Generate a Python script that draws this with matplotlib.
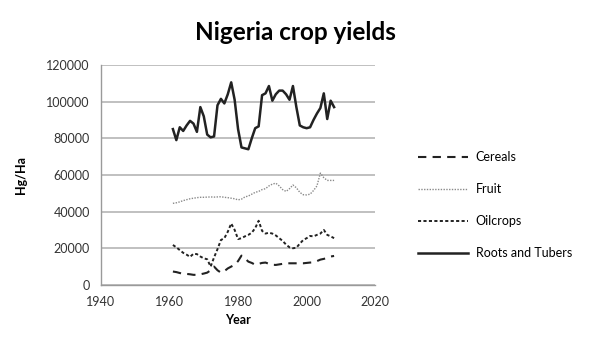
import matplotlib
matplotlib.use("Agg")
import matplotlib.pyplot as plt

plt.rcParams['font.family'] = ['Lato', 'DejaVu Sans']

years = list(range(1961, 2009))

cereals = [7300, 7000, 6500, 6000, 6000, 5800, 5500, 5500, 5800, 6200,
           6700, 8000, 10000, 8000, 6700, 7500, 9000, 10000, 11000, 13000,
           16000, 14500, 12700, 12000, 11000, 11500, 12000, 12200, 11500, 11000,
           10900, 11200, 11500, 11800, 11800, 11800, 11800, 11800, 11800, 12000,
           12200, 12300, 13000, 13800, 14200, 14800, 15500, 15800]

fruit = [44500, 44800, 45300, 46000, 46500, 47000, 47300, 47600, 47800, 47800,
         47900, 48000, 47900, 48000, 48100, 47800, 47600, 47300, 47000, 46400,
         46800, 48000, 48500, 49500, 50500, 51000, 52000, 52500, 54000, 55000,
         55500, 54000, 52000, 51000, 52500, 54500, 53000, 50500, 49200, 49100,
         49500, 51500, 54000, 61000, 58500, 57000, 57000, 57000]

oilcrops = [21800, 20500, 19000, 17500, 16500, 15300, 17000, 16800, 15500, 14500,
            14000, 10000, 15000, 19500, 24500, 25500, 29000, 33500, 30000, 25000,
            25500, 26500, 27300, 28500, 31000, 35000, 29500, 28000, 28500, 28000,
            27000, 25500, 24000, 22000, 20500, 20000, 20300, 22500, 24500, 25500,
            26700, 26500, 27300, 28000, 30000, 27300, 26500, 25500]

roots_tubers = [85000, 79000, 86000, 84000, 87000, 89500, 88000, 83500, 97000, 92000,
                82000, 80500, 81000, 98000, 101500, 99000, 104000, 110500, 101000, 85000,
                75000, 74500, 74000, 80000, 85500, 86500, 103500, 104500, 108500, 100500,
                104000, 106000, 106000, 104000, 101000, 108500, 97000, 87000, 86000, 85500,
                86000, 90000, 93500, 96500, 104500, 90500, 100500, 97000]

x_ticks = [1940, 1960, 1980, 2000, 2020]
y_ticks = [0, 20000, 40000, 60000, 80000, 100000, 120000]

fig = plt.figure(figsize=(5.9, 3.4), dpi=100)
ax = fig.add_axes([0.171, 0.162, 0.465, 0.647])

ax.plot(years, cereals, color='#222222', lw=1.5, dashes=(4, 3), label='Cereals')
ax.plot(years, fruit, color='#8a8a8a', lw=1.0, dashes=(1, 1), label='Fruit')
ax.plot(years, oilcrops, color='#222222', lw=1.4, dashes=(1.6, 1.2), label='Oilcrops')
ax.plot(years, roots_tubers, color='#222222', lw=1.8, label='Roots and Tubers')

ax.set_xlim(1940, 2020)
ax.set_ylim(0, 120000)
ax.set_xticks(x_ticks)
ax.set_yticks(y_ticks)
ax.set_yticklabels([str(v) for v in y_ticks])
ax.tick_params(length=0, labelsize=9, colors='#333333', pad=8)
ax.yaxis.grid(True, color='#b5b5b5', lw=1.2)
ax.set_axisbelow(True)
for side in ('top', 'right'):
    ax.spines[side].set_visible(False)
for side in ('left', 'bottom'):
    ax.spines[side].set_color('#9a9a9a')
    ax.spines[side].set_linewidth(1.0)

ax.set_xlabel('Year', fontsize=9, fontweight='bold', labelpad=4)
ax.set_ylabel('Hg/Ha', fontsize=9, fontweight='bold', labelpad=14)

fig.text(0.5, 0.905, 'Nigeria crop yields', ha='center', va='center',
         fontsize=17.5, fontweight='bold')

fig.legend(loc='center left', bbox_to_anchor=(0.69, 0.397), frameon=False,
           fontsize=9, handlelength=4.0, labelspacing=1.6, handletextpad=0.6)

fig.savefig('out.png', dpi=100)
